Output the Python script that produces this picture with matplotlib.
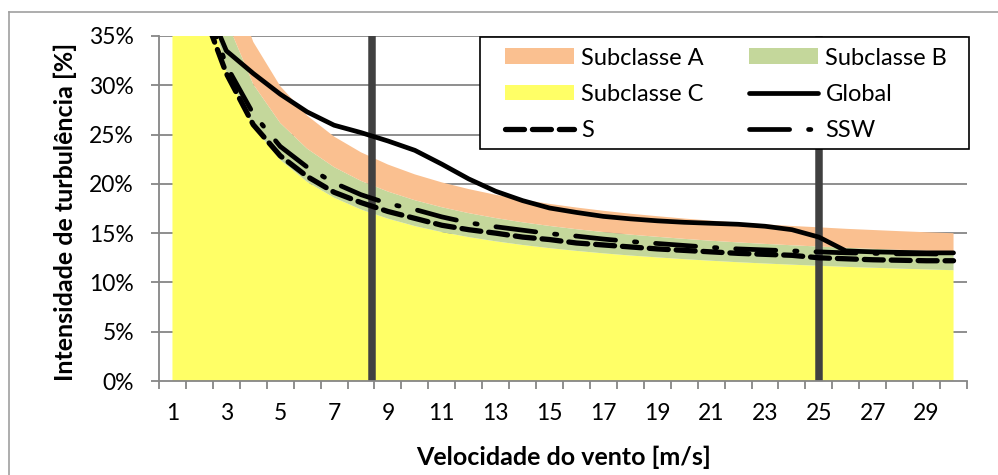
import matplotlib
matplotlib.use('Agg')
import matplotlib.pyplot as plt
from matplotlib.lines import Line2D
from matplotlib.patches import Patch, Rectangle
import numpy as np

plt.rcParams['font.family'] = ['Lato', 'DejaVu Sans']

# ---------------- data (values in %) ----------------
wind_speed = list(range(1, 31))
subclasse_c = [76.2, 42.6, 31.4, 25.8, 22.44, 20.2, 18.6, 17.4, 16.47, 15.72,
               15.11, 14.6, 14.17, 13.8, 13.48, 13.2, 12.95, 12.73, 12.54, 12.36,
               12.2, 12.05, 11.92, 11.8, 11.69, 11.58, 11.49, 11.4, 11.32, 11.24]
subclasse_b = [88.9, 49.7, 36.63, 30.1, 26.18, 23.57, 21.7, 20.3, 19.22, 18.34,
               17.63, 17.03, 16.53, 16.1, 15.73, 15.4, 15.11, 14.85, 14.63, 14.42,
               14.23, 14.06, 13.91, 13.77, 13.64, 13.51, 13.41, 13.3, 13.21, 13.11]
subclasse_a = [101.6, 56.8, 41.87, 34.4, 29.92, 26.93, 24.8, 23.2, 21.96, 20.96,
               20.15, 19.47, 18.89, 18.4, 17.97, 17.6, 17.27, 16.97, 16.72, 16.48,
               16.27, 16.07, 15.89, 15.73, 15.59, 15.44, 15.32, 15.2, 15.09, 14.99]
global_ti = [70.0, 40.0, 33.5, 31.2, 29.1, 27.3, 25.95, 25.2, 24.35, 23.4,
             22.0, 20.5, 19.25, 18.3, 17.55, 17.1, 16.7, 16.45, 16.25, 16.1,
             16.0, 15.9, 15.7, 15.35, 14.6, 13.2, 13.1, 13.05, 13.0, 13.0]
s_ti = [60.0, 38.5, 31.2, 26.0, 22.85, 20.75, 19.15, 18.1, 17.2, 16.5,
        15.8, 15.35, 15.0, 14.6, 14.35, 14.0, 13.8, 13.6, 13.4, 13.25,
        13.1, 12.95, 12.85, 12.75, 12.5, 12.4, 12.3, 12.25, 12.2, 12.2]
ssw_ti = [65.0, 40.0, 32.0, 27.1, 23.8, 21.7, 20.1, 18.9, 18.0, 17.4,
          16.65, 16.05, 15.65, 15.3, 14.95, 14.7, 14.4, 14.15, 13.95, 13.75,
          13.55, 13.4, 13.3, 13.2, 13.1, 13.0, 12.95, 12.9, 12.9, 12.85]
vertical_markers = [8.4, 25.0]
y_ticks = [0, 5, 10, 15, 20, 25, 30, 35]
x_tick_labels = [1, 3, 5, 7, 9, 11, 13, 15, 17, 19, 21, 23, 25, 27, 29]

# ---------------- figure ----------------
W, H = 998, 475
fig = plt.figure(figsize=(W / 100, H / 100), dpi=100)
L, R, T, B = 159, 967, 36, 381
ax = fig.add_axes([L / W, 1 - B / H, (R - L) / W, (B - T) / H])

c_orange = '#FAC090'
c_green = '#C4D79B'
c_yellow = '#FFFF66'
grid_c = '#868686'

x = np.array(wind_speed)
ax.fill_between(x, 0, subclasse_c, color=c_yellow, lw=0, zorder=2)
ax.fill_between(x, subclasse_c, subclasse_b, color=c_green, lw=0, zorder=2)
ax.fill_between(x, subclasse_b, subclasse_a, color=c_orange, lw=0, zorder=2)

for v in vertical_markers:
    ax.plot([v, v], [0, 35], color='#404040', lw=5.4, zorder=3,
            solid_capstyle='butt')

lw = 3.4
s_dash = (3.6, 1.5)
w_dash = (8.5, 4.0, 0.5, 4.0)
ax.plot(x, global_ti, color='black', lw=lw, zorder=4, solid_capstyle='round',
        solid_joinstyle='round')
ax.plot(x, s_ti, color='black', lw=lw + 0.4, zorder=4, dashes=s_dash,
        dash_capstyle='round')
ax.plot(x, ssw_ti, color='black', lw=lw, zorder=4, dashes=w_dash,
        dash_capstyle='round')

ax.set_xlim(0.5, 30.5)
ax.set_ylim(0, 35)

for yv in y_ticks[1:]:
    ax.axhline(yv, color=grid_c, lw=1.3, zorder=1)

ax.set_yticks(y_ticks)
ax.set_yticklabels([f'{v}%' for v in y_ticks])
ax.set_xticks(x_tick_labels)
ax.set_xticklabels([str(v) for v in x_tick_labels])
ax.set_xticks(np.arange(0.5, 31, 1), minor=True)

ax.tick_params(axis='x', which='major', length=0, pad=16, labelsize=16.5)
ax.tick_params(axis='x', which='minor', length=6, width=1.3, color=grid_c,
               direction='out')
ax.tick_params(axis='y', which='major', length=6, width=1.3, color=grid_c,
               pad=12, labelsize=16.5)

for s in ['top', 'right']:
    ax.spines[s].set_visible(False)
for s in ['left', 'bottom']:
    ax.spines[s].set_color(grid_c)
    ax.spines[s].set_linewidth(1.3)
    ax.spines[s].set_zorder(5)

ax.set_xlabel('Velocidade do vento [m/s]', fontsize=18, fontweight='bold')
ax.set_ylabel('Intensidade de turbulência [%]', fontsize=18, fontweight='bold')
ax.xaxis.set_label_coords((564 - L) / (R - L), -(457 - B) / (B - T))
ax.yaxis.set_label_coords(-(L - 65) / (R - L), (B - 212) / (B - T))
ax.xaxis.label.set_verticalalignment('center')
ax.yaxis.label.set_verticalalignment('center')

# legend (row-major order emulated)
h_a = Patch(facecolor=c_orange, edgecolor='none', label='Subclasse A')
h_b = Patch(facecolor=c_green, edgecolor='none', label='Subclasse B')
h_c = Patch(facecolor=c_yellow, edgecolor='none', label='Subclasse C')
h_g = Line2D([], [], color='black', lw=lw, label='Global', solid_capstyle='round')
h_s = Line2D([], [], color='black', lw=lw + 0.4, dashes=s_dash,
             dash_capstyle='round', label='S')
h_w = Line2D([], [], color='black', lw=lw, dashes=w_dash,
             dash_capstyle='round', label='SSW')
handles = [h_a, h_c, h_s, h_b, h_g, h_w]
leg = fig.legend(handles=handles, ncol=2, loc='upper left',
                 bbox_to_anchor=(488 / W, 1 - 31 / H), frameon=False,
                 fontsize=17, handlelength=2.95, handleheight=0.65,
                 handletextpad=0.3, columnspacing=1.9, labelspacing=0.65,
                 borderpad=0.2)
leg.set_zorder(10)
fig.add_artist(Rectangle((480 / W, 1 - 149 / H), (969 - 480) / W, (149 - 37) / H,
                         transform=fig.transFigure, facecolor='white',
                         edgecolor='black', lw=1.2, zorder=5))

# chart area border (left and top visible)
fig.add_artist(Line2D([8.5 / W, 8.5 / W], [0, 1 - 12 / H], color='#a0a0a0',
                      lw=1.2, transform=fig.transFigure))
fig.add_artist(Line2D([8.5 / W, 1], [1 - 12 / H, 1 - 12 / H], color='#a0a0a0',
                      lw=1.2, transform=fig.transFigure))

fig.savefig('out.png', dpi=100, facecolor='white')
